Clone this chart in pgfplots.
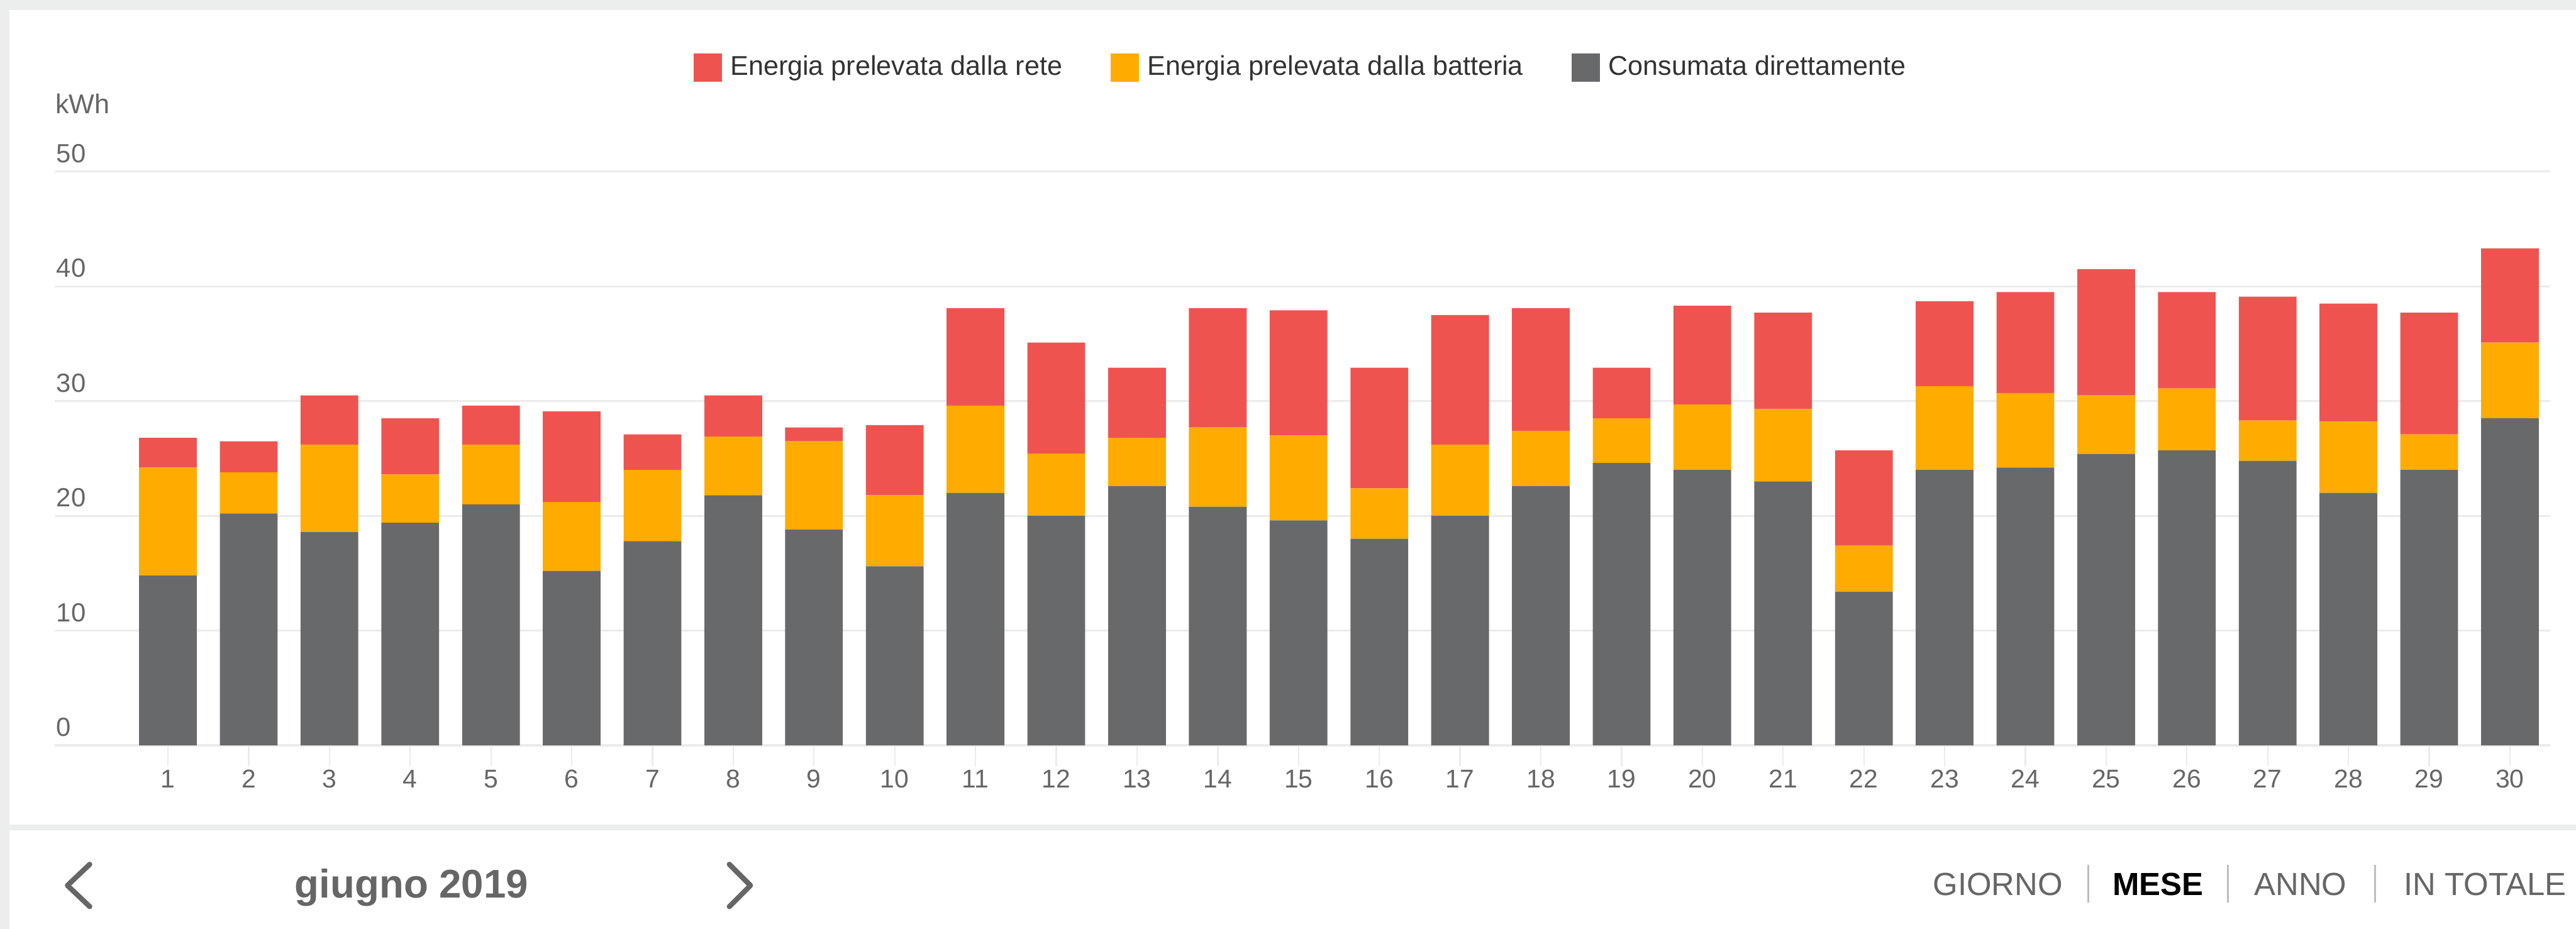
\documentclass[border=0pt]{standalone}
\usepackage{fontspec}
\setmainfont{Liberation Sans}
\usepackage{pgfplots}
\pgfplotsset{compat=1.18}
\definecolor{cred}{HTML}{EF5350}
\definecolor{corange}{HTML}{FFAB00}
\definecolor{cgray}{HTML}{68696B}
\definecolor{gridc}{HTML}{EBEBEB}
\definecolor{framec}{HTML}{ECEEED}
\definecolor{txtgray}{HTML}{666666}
\definecolor{txtdark}{HTML}{333333}
\definecolor{sepc}{HTML}{BDBDBD}
\begin{document}
\begin{tikzpicture}
\path[use as bounding box, fill=white] (0,0) rectangle (901.4pt,325pt);
\fill[framec] (0,321.4pt) rectangle (901.4pt,325pt);
\fill[framec] (0,0) rectangle (3.4pt,325pt);
\fill[framec] (3.4pt,34.6pt) rectangle (901.4pt,36.4pt);
\begin{axis}[
  at={(19.2pt,64.2pt)}, anchor=south west,
  scale only axis, width=873.2pt, height=200.8pt,
  ybar stacked, bar width=20.2pt,
  xmin=-0.4, xmax=30.5, ymin=0, ymax=50,
  xtick={1,...,30}, ytick={0,10,...,50},
  xtick pos=left, ytick pos=left,
  ymajorgrids, major grid style={color=gridc, line width=0.7pt},
  axis line style={draw=none},
  tick align=outside, major tick length=7.2pt,
  xtick style={color=gridc, line width=0.5pt},
  ytick style={draw=none},
  /pgf/number format/assume math mode=true,
  x tick label style={font=\fontsize{9}{10}\selectfont, text=txtgray, inner sep=0pt, anchor=north, yshift=-1.2pt},
  y tick label style={font=\fontsize{9.2}{10}\selectfont, text=txtgray, inner sep=0pt, anchor=base west, xshift=7.6pt, yshift=3.2pt},
  reverse legend,
  legend columns=3,
  legend style={at={(0.5,1.1808)}, anchor=center, draw=none, fill=none,
    font=\fontsize{9.5}{11}\selectfont, text=txtdark,
    /tikz/every even column/.append style={column sep=15pt},
    /tikz/every odd column/.append style={column sep=1pt}},
  legend image code/.code={\fill[#1] (0pt,-4.9pt) rectangle (9.8pt,4.9pt);},
]
\addplot[fill=cgray, draw=none] coordinates {
(1,14.8) (2,20.2) (3,18.6) (4,19.4) (5,21.0) (6,15.2) (7,17.8) (8,21.8) (9,18.8) (10,15.6)
(11,22.0) (12,20.0) (13,22.6) (14,20.8) (15,19.6) (16,18.0) (17,20.0) (18,22.6) (19,24.6) (20,24.0)
(21,23.0) (22,13.4) (23,24.0) (24,24.2) (25,25.4) (26,25.7) (27,24.8) (28,22.0) (29,24.0) (30,28.5)};
\addlegendentry{Consumata direttamente}
\addplot[fill=corange, draw=none] coordinates {
(1,9.4) (2,3.6) (3,7.6) (4,4.2) (5,5.2) (6,6.0) (7,6.2) (8,5.1) (9,7.7) (10,6.2)
(11,7.6) (12,5.4) (13,4.2) (14,6.9) (15,7.4) (16,4.4) (17,6.2) (18,4.8) (19,3.9) (20,5.7)
(21,6.3) (22,4.0) (23,7.3) (24,6.5) (25,5.1) (26,5.4) (27,3.5) (28,6.2) (29,3.1) (30,6.6)};
\addlegendentry{Energia prelevata dalla batteria}
\addplot[fill=cred, draw=none] coordinates {
(1,2.6) (2,2.7) (3,4.3) (4,4.9) (5,3.4) (6,7.9) (7,3.1) (8,3.6) (9,1.2) (10,6.1)
(11,8.5) (12,9.7) (13,6.1) (14,10.4) (15,10.9) (16,10.5) (17,11.3) (18,10.7) (19,4.4) (20,8.6)
(21,8.4) (22,8.3) (23,7.4) (24,8.8) (25,11.0) (26,8.4) (27,10.8) (28,10.3) (29,10.6) (30,8.2)};
\addlegendentry{Energia prelevata dalla rete}
\draw[gridc, line width=0.9pt] (axis cs:-0.4,0) -- (axis cs:30.5,0);
\end{axis}
\node[anchor=base west, inner sep=0pt, text=txtgray, font=\fontsize{9.5}{11}\selectfont] at (19.2pt,285.2pt) {kWh};
% bottom navigation
\draw[txtgray, line width=1.8pt, line cap=round, line join=round] (31.4pt,22.6pt) -- (23.6pt,15.2pt) -- (31.4pt,7.8pt);
\draw[txtgray, line width=1.8pt, line cap=round, line join=round] (255.2pt,22.6pt) -- (262.6pt,15.2pt) -- (255.2pt,7.8pt);
\node[anchor=base west, inner sep=0pt, text=txtgray, font=\fontsize{14}{16}\selectfont\bfseries] at (103pt,10.8pt) {giugno 2019};
\node[anchor=base, inner sep=0pt, text=txtgray, font=\fontsize{11.2}{13}\selectfont] at (699.1pt,11.8pt) {GIORNO};
\node[anchor=base, inner sep=0pt, text=black, font=\fontsize{11.2}{13}\selectfont\bfseries] at (755.1pt,11.8pt) {MESE};
\node[anchor=base, inner sep=0pt, text=txtgray, font=\fontsize{11.2}{13}\selectfont] at (805pt,11.8pt) {ANNO};
\node[anchor=base, inner sep=0pt, text=txtgray, font=\fontsize{11.2}{13}\selectfont] at (869.6pt,11.8pt) {IN TOTALE};
\draw[sepc, line width=0.6pt] (730.8pt,9.2pt) -- (730.8pt,22.4pt);
\draw[sepc, line width=0.6pt] (779.6pt,9.2pt) -- (779.6pt,22.4pt);
\draw[sepc, line width=0.6pt] (831pt,9.2pt) -- (831pt,22.4pt);
\end{tikzpicture}
\end{document}
